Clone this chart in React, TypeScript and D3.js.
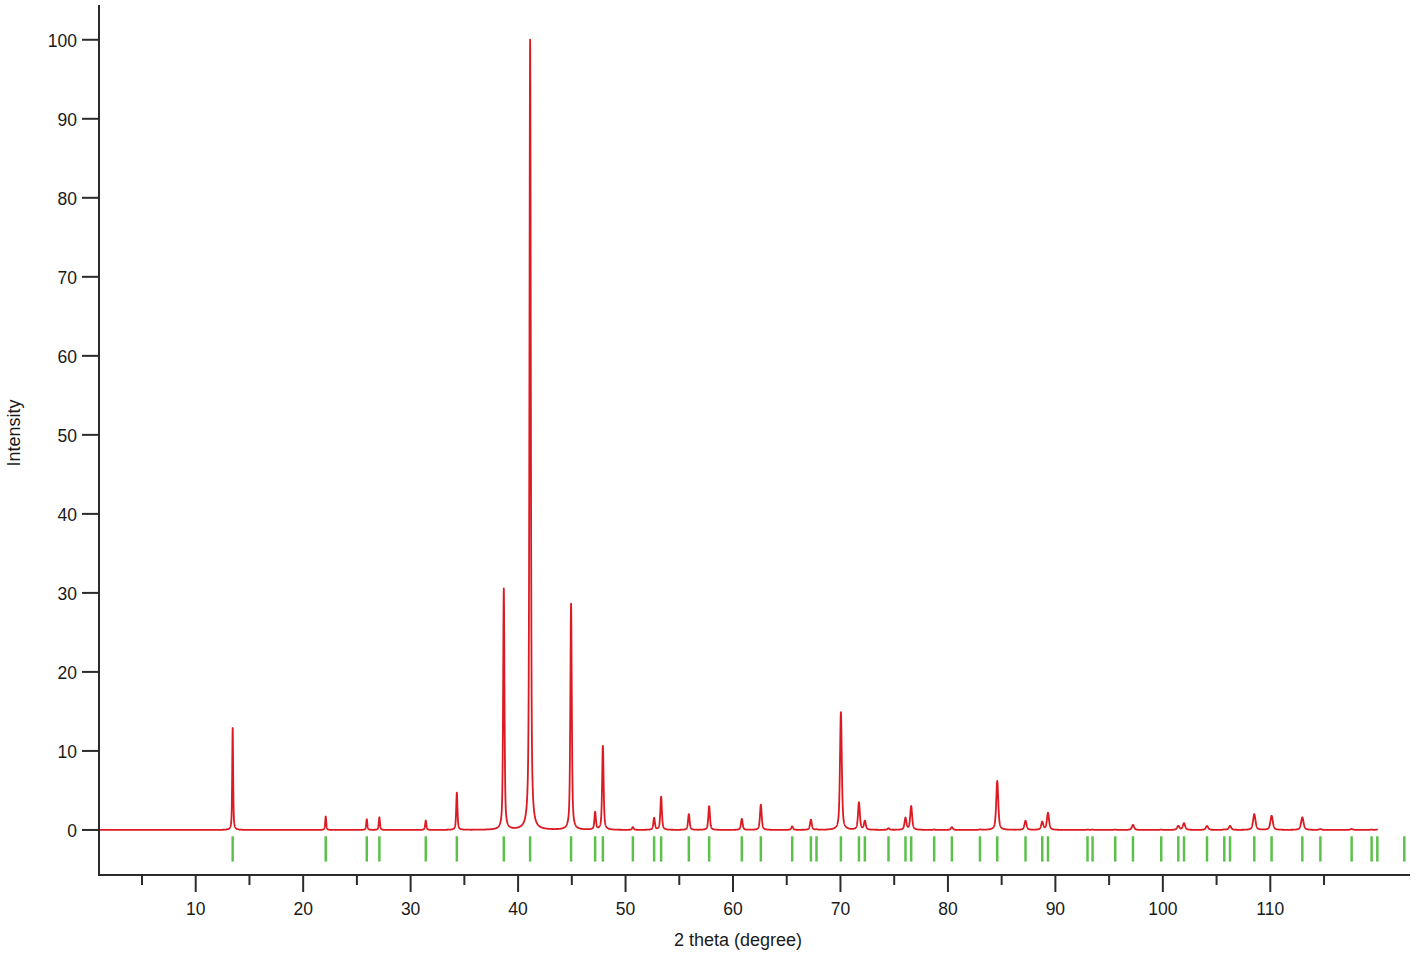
import React from "react";
import * as d3 from "d3";

// Reflection positions (2θ, degrees)
const reflections: number[] = [
  13.44, 22.1, 25.92, 27.09, 31.41, 34.3, 38.67, 41.12, 44.93, 47.17, 47.89,
  50.68, 52.66, 53.31, 55.89, 57.78, 60.82, 62.59, 65.51, 67.25, 67.77, 70.04,
  71.72, 72.27, 74.47, 76.05, 76.58, 78.72, 80.37, 82.98, 84.59, 87.22, 88.78,
  89.31, 92.99, 93.46, 95.57, 97.22, 99.85, 101.44, 101.97, 104.11, 105.72,
  106.25, 108.51, 110.12, 112.98, 114.66, 117.57, 119.43, 119.96, 122.47,
];

// Peak intensities at each reflection
const intensities: number[] = [
  12.9, 1.7, 1.35, 1.6, 1.2, 4.7, 30.5, 100, 28.6, 2.2, 10.6,
  0.35, 1.5, 4.2, 2.0, 3.0, 1.4, 3.2, 0.45, 1.3, 0.05, 14.9,
  3.45, 1.1, 0.2, 1.5, 3.0, 0.05, 0.35, 0.05, 6.2, 1.15, 1.0,
  2.15, 0.05, 0.05, 0.05, 0.65, 0.05, 0.5, 0.85, 0.5, 0.05,
  0.5, 2.0, 1.8, 1.6, 0.1, 0.12, 0.05, 0.05, 0,
];

const xMajorTicks: number[] = [10, 20, 30, 40, 50, 60, 70, 80, 90, 100, 110];
const xMinorTicks: number[] = [5, 15, 25, 35, 45, 55, 65, 75, 85, 95, 105, 115];
const yTicks: number[] = [0, 10, 20, 30, 40, 50, 60, 70, 80, 90, 100];

const patternStart = 1;
const patternEnd = 120;

const W = 1417;
const H = 954;
const FONT = "'Liberation Sans', Arial, Helvetica, sans-serif";

export default function App() {
  const x = d3.scaleLinear().domain([1, 123.0]).range([99, 1410]);
  const y = d3.scaleLinear().domain([-5.7, 104.4]).range([875, 5]);

  // Pseudo-Voigt profile built from the read peak positions/heights
  const fwhm = (t: number) => 0.08 + 0.0017 * t;
  const eta = 0.6;
  const step = 0.01;
  const pts: [number, number][] = [];
  for (let t = patternStart; t <= patternEnd + 1e-9; t += step) {
    let v = 0;
    for (let i = 0; i < reflections.length; i++) {
      const c = reflections[i];
      const h = intensities[i];
      if (!h) continue;
      const w = fwhm(c);
      const dx = t - c;
      if (Math.abs(dx) > 8) continue;
      const u = (2 * dx) / w;
      const lor = 1 / (1 + u * u);
      const gau = Math.exp(-Math.LN2 * u * u);
      v += h * (eta * lor + (1 - eta) * gau);
    }
    pts.push([t, v]);
  }
  const line = d3
    .line<[number, number]>()
    .x((d) => x(d[0]))
    .y((d) => y(d[1]));

  const axisColor = "#2b2b2b";
  const x0 = x(1);
  const yBottom = y(-5.7);

  return (
    <svg
      width={W}
      height={H}
      style={{ position: "absolute", left: 0, top: 0, background: "#fff" }}
      fontFamily={FONT}
    >
      {/* green reflection markers */}
      <g stroke="#5cc14b" strokeWidth={2.5}>
        {reflections.map((r, i) => (
          <line key={i} x1={x(r)} x2={x(r)} y1={y(-0.8)} y2={y(-4.0)} />
        ))}
      </g>

      {/* pattern */}
      <path d={line(pts) || ""} fill="none" stroke="#dc1a22" strokeWidth={1.8} strokeLinejoin="round" />

      {/* y axis */}
      <line x1={x0} x2={x0} y1={y(104.4)} y2={yBottom} stroke={axisColor} strokeWidth={2} />
      {yTicks.map((t) => (
        <g key={t}>
          <line x1={x0 - 17} x2={x0} y1={y(t)} y2={y(t)} stroke={axisColor} strokeWidth={2} />
          <text
            x={x0 - 22}
            y={y(t) + 1}
            textAnchor="end"
            dominantBaseline="central"
            fontSize={17.5}
            fill="#1a1a1a"
          >
            {t}
          </text>
        </g>
      ))}

      {/* x axis */}
      <line x1={x0 - 1} x2={x(123)} y1={yBottom} y2={yBottom} stroke={axisColor} strokeWidth={2} />
      {xMajorTicks.map((t) => (
        <g key={t}>
          <line x1={x(t)} x2={x(t)} y1={yBottom} y2={yBottom + 17} stroke={axisColor} strokeWidth={2} />
          <text x={x(t)} y={yBottom + 40} textAnchor="middle" fontSize={17.5} fill="#1a1a1a">
            {t}
          </text>
        </g>
      ))}
      {xMinorTicks.map((t) => (
        <line key={t} x1={x(t)} x2={x(t)} y1={yBottom} y2={yBottom + 10} stroke={axisColor} strokeWidth={2} />
      ))}

      <text x={738} y={946} textAnchor="middle" fontSize={18} fill="#1a1a1a">
        2 theta (degree)
      </text>
      <text
        transform={`translate(20, 433) rotate(-90)`}
        textAnchor="middle"
        fontSize={18}
        fill="#1a1a1a"
      >
        Intensity
      </text>
    </svg>
  );
}
